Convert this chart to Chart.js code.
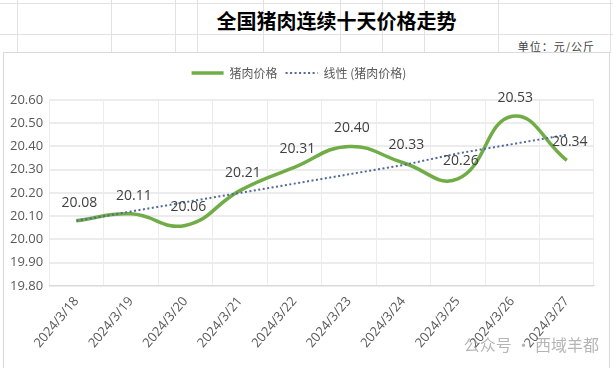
<!DOCTYPE html>
<html>
<head>
<meta charset="utf-8">
<script src="https://cdn.jsdelivr.net/npm/chart.js@4.4.1/dist/chart.umd.min.js"></script>
<style>
  body { margin: 0; width: 613px; height: 368px; background: #fff; position: relative; overflow: hidden; font-family: "Noto Sans CJK SC", sans-serif; }
  .vl { position: absolute; top: 0; width: 1px; height: 53px; background: #e2e2e2; }
  .hl { position: absolute; left: 0; height: 1px; width: 613px; background: #e2e2e2; }
  #title { position: absolute; left: 0; width: 613px; top: 6px; text-align: center; font-size: 20px; font-weight: bold; color: #000; padding-left: 60px; box-sizing: border-box; }
  #unit { position: absolute; right: 18px; top: 38px; font-size: 11px; color: #404040; letter-spacing: 1px; }
  #box { position: absolute; left: 3px; top: 52px; width: 605px; height: 320px; border: 1px solid #d9d9d9; background: #fff; }
  #wm { position: absolute; right: 14px; bottom: 12px; font-size: 16px; color: rgba(120,120,120,0.55); }
</style>
</head>
<body>
<div class="hl" style="top:3px"></div>
<div class="hl" style="top:34px"></div>
<div class="vl" style="left:17px"></div>
<div class="vl" style="left:111px"></div>
<div class="vl" style="left:175px"></div>
<div class="vl" style="left:197px"></div>
<div class="vl" style="left:263px"></div>
<div class="vl" style="left:340px"></div>
<div class="vl" style="left:382px"></div>
<div class="vl" style="left:424px"></div>
<div class="vl" style="left:498px"></div>
<div class="vl" style="left:610px"></div>
<div id="title">全国猪肉连续十天价格走势</div>
<div id="unit">单位：元/公斤</div>
<div id="box"><canvas id="chart" width="605" height="320"></canvas></div>
<div id="wm">公众号 · 西域羊都</div>
<script>
const dates = ['2024/3/18', '2024/3/19', '2024/3/20', '2024/3/21', '2024/3/22', '2024/3/23', '2024/3/24', '2024/3/25', '2024/3/26', '2024/3/27'];
const prices = [20.08, 20.11, 20.06, 20.21, 20.31, 20.40, 20.33, 20.26, 20.53, 20.34];
// trendline (Excel linear trend)
const trend = [20.08, 20.12, 20.16, 20.20, 20.24, 20.28, 20.32, 20.37, 20.41, 20.45];
const yTicks = [19.8, 19.9, 20.0, 20.1, 20.2, 20.3, 20.4, 20.5, 20.6];

// draw value labels above the price points
const valueLabels = {
  id: 'valueLabels',
  afterDatasetsDraw(chart) {
    const ctx = chart.ctx;
    const meta = chart.getDatasetMeta(0);
    ctx.save();
    ctx.font = '14px "Open Sans", "Noto Sans", sans-serif';
    ctx.fillStyle = '#404040';
    ctx.textAlign = 'center';
    ctx.textBaseline = 'bottom';
    meta.data.forEach((pt, i) => {
      ctx.fillText(prices[i].toFixed(2), pt.x + 3, pt.y - 11);
    });
    ctx.restore();
  }
};

// extra room under the legend
const legendGap = {
  id: 'legendGap',
  beforeInit(chart) {
    const fit = chart.legend.fit;
    chart.legend.fit = function () {
      fit.call(this);
      this.height += 11;
    };
  }
};

new Chart(document.getElementById('chart').getContext('2d'), {
  type: 'line',
  data: {
    labels: dates,
    datasets: [
      {
        label: '猪肉价格',
        data: prices,
        borderColor: '#70ad47',
        backgroundColor: '#70ad47',
        borderWidth: 3.5,
        tension: 0.45,
        pointRadius: 0,
        fill: false,
        order: 1
      },
      {
        label: '线性 (猪肉价格)',
        data: trend,
        borderColor: '#4e6a99',
        backgroundColor: '#4e6a99',
        borderWidth: 2,
        borderDash: [2, 2.5],
        pointRadius: 0,
        tension: 0,
        fill: false,
        order: 0
      }
    ]
  },
  options: {
    responsive: false,
    animation: false,
    layout: { padding: { left: 0, right: 15, top: 6, bottom: 14 } },
    plugins: {
      tooltip: { enabled: false },
      legend: {
        display: true,
        labels: {
          usePointStyle: true,
          pointStyle: 'line',
          pointStyleWidth: 32,
          boxHeight: 4,
          padding: 8,
          color: '#595959',
          font: { size: 12, family: '"Noto Sans CJK SC", sans-serif' },
          sort: (a, b) => a.datasetIndex - b.datasetIndex,
          generateLabels: chart => {
            const items = Chart.defaults.plugins.legend.labels.generateLabels(chart);
            items.forEach(it => {
              const ds = chart.data.datasets[it.datasetIndex];
              it.lineWidth = ds.borderWidth;
              it.lineDash = ds.borderDash || [];
              it.strokeStyle = ds.borderColor;
            });
            return items;
          }
        }
      }
    },
    scales: {
      x: {
        offset: true,
        grid: { color: '#ececec', lineWidth: 1, offset: true, drawTicks: false },
        border: { color: '#d9d9d9' },
        ticks: {
          color: '#595959',
          minRotation: 50,
          maxRotation: 50,
          padding: 8,
          font: { size: 13, family: '"Open Sans", "Noto Sans", sans-serif' }
        }
      },
      y: {
        min: 19.8,
        max: 20.6,
        afterBuildTicks: axis => { axis.ticks = yTicks.map(v => ({ value: v })); },
        grid: { color: '#ececec', lineWidth: 2, drawTicks: false },
        border: { display: false },
        ticks: {
          color: '#595959',
          padding: 6,
          font: { size: 13, family: '"Open Sans", "Noto Sans", sans-serif' },
          callback: v => Number(v).toFixed(2)
        }
      }
    }
  },
  plugins: [valueLabels, legendGap]
});
</script>
</body>
</html>
